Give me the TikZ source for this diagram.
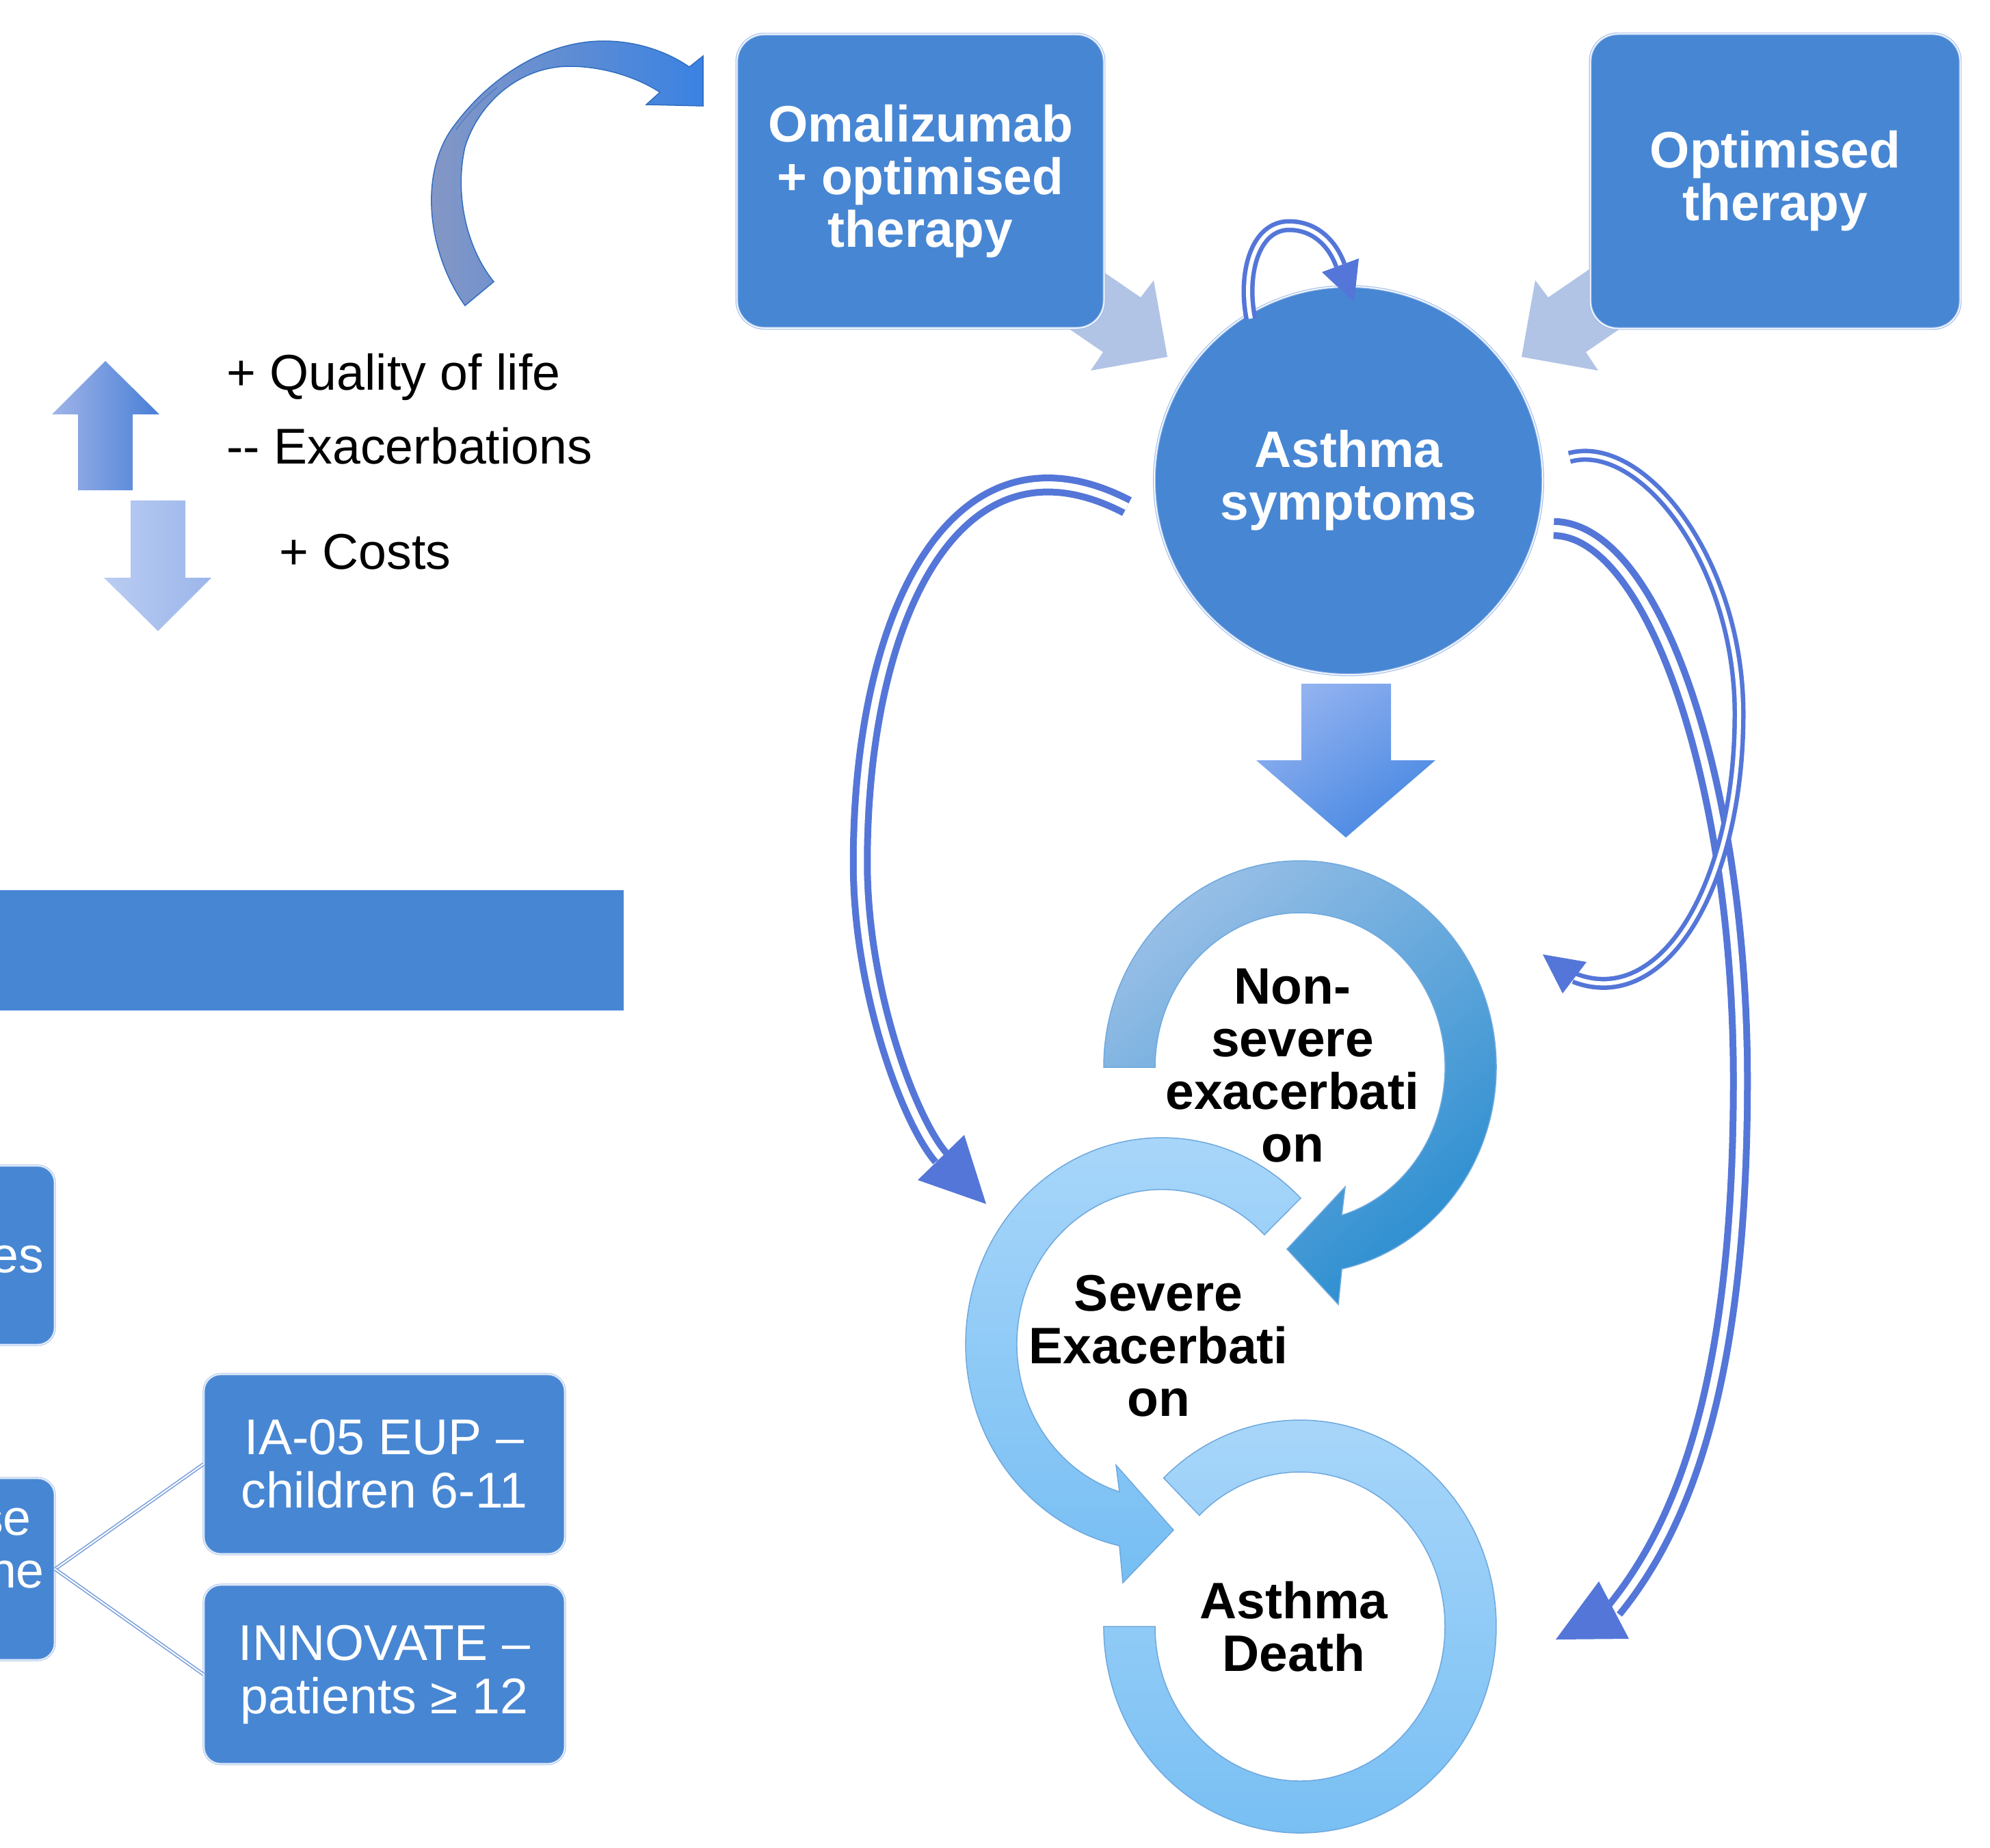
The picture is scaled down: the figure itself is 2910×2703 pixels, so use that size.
\documentclass[tikz,border=0pt]{standalone}
\usepackage{fontspec}
\setmainfont{Liberation Sans}
\newfontfamily\lsans{Liberation Sans}
\usetikzlibrary{arrows.meta}
\definecolor{boxblue}{RGB}{71,134,211}
\definecolor{boxrim}{RGB}{160,190,235}
\definecolor{dblue}{RGB}{84,118,216}
\definecolor{paleblue}{RGB}{177,196,230}
\definecolor{nsA}{RGB}{150,190,230}
\definecolor{nsB}{RGB}{44,142,208}
\definecolor{svA}{RGB}{170,215,250}
\definecolor{svB}{RGB}{118,190,243}
\definecolor{ringrim}{RGB}{110,168,222}
\definecolor{cvA}{RGB}{136,152,196}
\definecolor{cvB}{RGB}{58,130,226}
\definecolor{upA}{RGB}{160,180,232}
\definecolor{upB}{RGB}{72,127,214}
\definecolor{dnA}{RGB}{186,204,242}
\definecolor{dnB}{RGB}{155,182,234}
\definecolor{bdA}{RGB}{146,178,240}
\definecolor{bdB}{RGB}{72,136,226}
\definecolor{connc}{RGB}{120,158,218}
\newcommand\mybold{\lsans\bfseries\fontsize{75}{77}\selectfont}
\newcommand\myreg{\lsans\fontsize{73.5}{78}\selectfont}
\begin{document}
\begin{tikzpicture}[x=1pt,y=-1pt,
  mainbox/.style={rounded corners=40pt, fill=boxblue, draw=boxrim, line width=1.2pt,
     double=white, double distance=1.5pt, text=white, font=\mybold, align=center, inner sep=0pt},
  smallbox/.style={rounded corners=25pt, fill=boxblue, draw=boxrim, line width=1pt,
     double=white, double distance=1.2pt, text=white, font=\myreg, align=center, inner sep=0pt},
  dbl/.style={draw=dblue, double=white, line width=10pt, double distance=10.5pt},
  dblthin/.style={draw=dblue, double=white, line width=6.5pt, double distance=6pt},
  conn/.style={draw=connc, double=white, line width=1.6pt, double distance=2pt},
  ringtext/.style={font=\mybold, align=center, inner sep=0pt, text=black},
  lefttext/.style={font=\myreg, anchor=base west, inner sep=0pt, text=black},
  ring/.style={draw=ringrim, line width=1.5pt}
]
\useasboundingbox (0,0) rectangle (2910,2703);
\fill[white] (0,0) rectangle (2910,2703);

% ---------- top-left curved arrow
\shadedraw[left color=cvA, right color=cvB, draw=cvB!85!black, line width=1.5pt]
  (680,447) .. controls (625,370) and (610,250) .. (667,180)
  .. controls (720,110) and (800,60) .. (883,60)
  .. controls (930,60) and (975,75) .. (1008,98)
  -- (1028,82) -- (1028,155) -- (945,153) -- (965,135)
  .. controls (930,112) and (880,97) .. (833,97)
  .. controls (760,97) and (700,150) .. (680,215)
  .. controls (665,280) and (680,360) .. (722,412)
  -- cycle;
\draw[cvB!85!black, line width=1.2pt, opacity=0.6] (727,128) .. controls (705,145) and (680,170) .. (667,190);

% ---------- up / down arrows
\shade[left color=upA, right color=upB]
  (114,717) -- (114,606) -- (76,606) -- (154,528) -- (233,606) -- (194,606) -- (194,717) -- cycle;
\shade[left color=dnA, right color=dnB]
  (191,732) -- (271,732) -- (271,845) -- (309,845) -- (231,923) -- (152,845) -- (191,845) -- cycle;

\node[lefttext] (qol) at (331,570) {+ Quality of life};
\node[lefttext] (exa) at (331,678) {\mbox{-}\mbox{-} Exacerbations};
\node[lefttext] (cost) at (408,832) {+ Costs};

% ---------- left lower part
\fill[boxblue] (0,1302) rectangle (912,1478);
\node[smallbox, minimum width=240pt, minimum height=262pt] (pb1) at (-40,1836) {};
\node[smallbox, minimum width=240pt, minimum height=266pt] (pb2) at (-40,2295) {};
\node[font=\myreg, text=white, anchor=base east, inner sep=0pt] (pb1t) at (64,1861) {es};
\node[font=\myreg, text=white, anchor=base east, inner sep=0pt] (pb2a) at (46,2245) {se};
\node[font=\myreg, text=white, anchor=base east, inner sep=0pt] (pb2b) at (65,2322) {ne};
\node[smallbox, minimum width=528pt, minimum height=263pt] (ia) at (562,2141.5) {IA-05 EUP –\\children 6-11};
\node[smallbox, minimum width=528pt, minimum height=262pt] (inn) at (562,2449) {INNOVATE –\\patients ≥ 12};
\draw[conn] (pb2.east) -- (ia.west);
\draw[conn] (pb2.east) -- (inn.west);

% ---------- pale arrows into the circle
\fill[paleblue] (1566,365) -- (1668,435) -- (1687,410) -- (1707,522) -- (1595,542) -- (1613,515) -- (1537,463) -- cycle;
\fill[paleblue] (2366,365) -- (2264,435) -- (2245,410) -- (2225,522) -- (2337,542) -- (2319,515) -- (2395,463) -- cycle;

% ---------- boxes and circle
\node[mainbox, minimum width=537pt, minimum height=430pt] (oma) at (1346,265) {Omalizumab\\+ optimised\\therapy};
\node[mainbox, minimum width=541pt, minimum height=431pt] (opt) at (2596,265) {Optimised\\therapy};
\node[circle, fill=boxblue, draw=boxrim, line width=1.2pt, double=white, double distance=1.5pt,
      minimum size=568pt, inner sep=0pt, font=\mybold, text=white, align=center] (sym) at (1972,703) {Asthma\\symptoms};

% ---------- big down arrow
\shade[top color=bdA, bottom color=bdB, shading angle=35]
  (1903,1000) -- (2034,1000) -- (2034,1112) -- (2099,1112) -- (1968,1225) -- (1837,1112) -- (1903,1112) -- cycle;

% ---------- rings
\shadedraw[ring, top color=svA, bottom color=svB]
  (1701.6,2161.8) arc[start angle=226, end angle=540, x radius=287, y radius=302]
  -- (1689,2379) arc[start angle=540, end angle=226, x radius=212, y radius=226] -- cycle;
\shadedraw[ring, top color=svA, bottom color=svB]
  (1902,1752.5) arc[start angle=315, end angle=102.5, x radius=287, y radius=302]
  -- (1642,2315) -- (1716,2238) -- (1632,2143) -- (1637,2182)
  arc[start angle=107, end angle=315, x radius=212, y radius=226] -- cycle;
\shadedraw[ring, top color=nsA, bottom color=nsB, shading angle=40]
  (1614,1561) arc[start angle=180, end angle=437.7, x radius=287, y radius=302]
  -- (1957,1908) -- (1882,1827) -- (1967,1736) -- (1962,1777.5)
  arc[start angle=433.3, end angle=180, x radius=212, y radius=226] -- cycle;

\node[ringtext] (ns) at (1890,1559) {Non-\\severe\\exacerbati\\on};
\node[ringtext] (sev) at (1694,1969) {Severe\\Exacerbati\\on};
\node[ringtext] (death) at (1892,2379) {Asthma\\Death};

% ---------- double-line connectors
\coordinate (s0) at (1829,466);
\coordinate (s1) at (1960,388);
\coordinate (s2) at (1980,442);
\draw[dblthin] (s0) .. controls (1816,400) and (1835,330) .. (1885,330)
   .. controls (1922,330) and (1948,355) .. (s1);
\fill[dblue] (1933,398) -- (s2) -- (1987,378) -- cycle;

\coordinate (l0) at (1648,741);
\coordinate (l1) at (1376,1693);
\coordinate (l2) at (1442,1761);
\draw[dbl] (l0) .. controls (1398,611) and (1258,900) .. (1258,1262)
   .. controls (1258,1450) and (1330,1640) .. (l1);
\fill[dblue] (1342,1726) -- (l2) -- (1410,1660) -- cycle;

\coordinate (a0) at (2272,773);
\coordinate (a1) at (2360,2355);
\coordinate (a2) at (2275,2398);
\draw[dbl] (a0) .. controls (2420,775) and (2545,1150) .. (2545,1580)
   .. controls (2545,2000) and (2470,2220) .. (a1);
\fill[dblue] (2338,2313) -- (a2) -- (2382,2397) -- cycle;

\coordinate (b0) at (2295,669);
\coordinate (b1) at (2302,1430);
\coordinate (b2) at (2256,1396);
\draw[dblthin] (b0) .. controls (2400,640) and (2543,820) .. (2543,1044)
   .. controls (2543,1300) and (2430,1480) .. (b1);
\fill[dblue] (2320,1407) -- (b2) -- (2285,1453) -- cycle;
\end{tikzpicture}
\end{document}
